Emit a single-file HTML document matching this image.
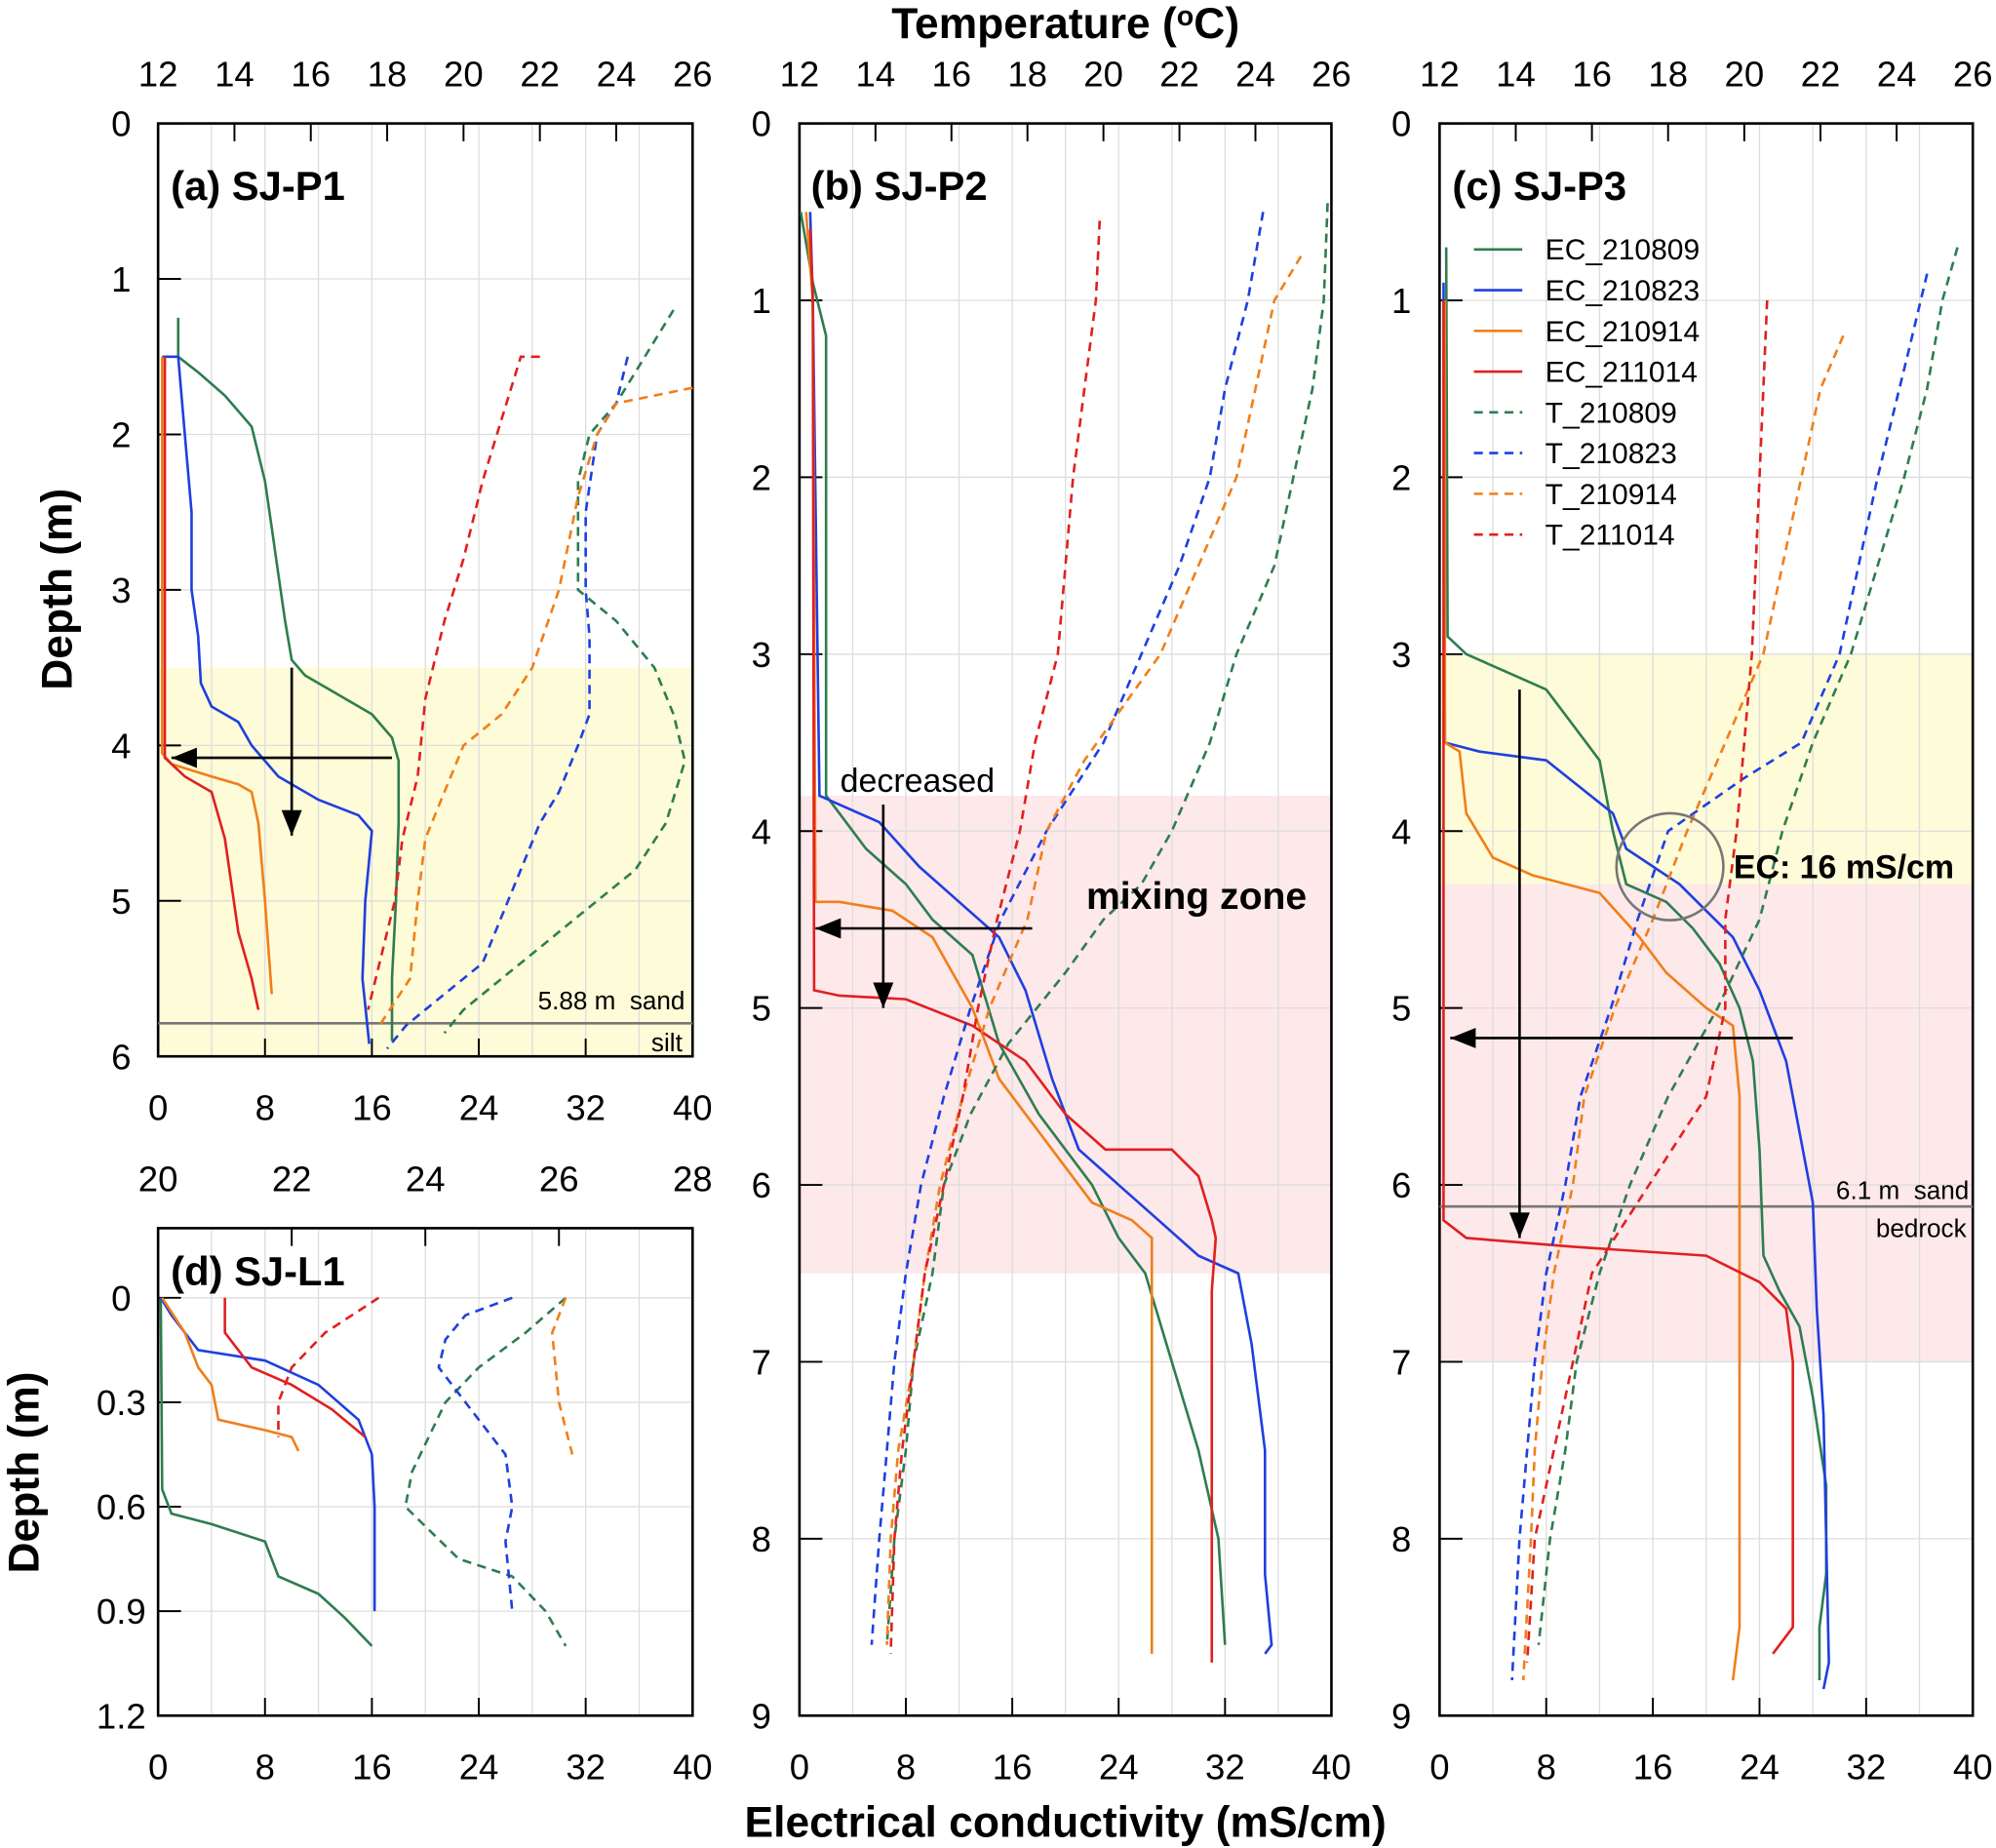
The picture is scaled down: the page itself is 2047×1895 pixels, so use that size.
<!DOCTYPE html>
<html><head><meta charset="utf-8"><style>
html,body{margin:0;padding:0;background:#fff}
svg{display:block}
text{font-family:"Liberation Sans",Arial,sans-serif}
</style></head><body>
<svg id="s" width="2047" height="1895" viewBox="0 0 1568 1452" xmlns="http://www.w3.org/2000/svg"></svg>
<script>
const S=document.getElementById('s');let h='';
const G='#2e7d4f',B='#1f3fe0',O='#f07f1a',R='#e02020';
function P(x0,x1,y0,y1,d0,d1,t0,t1){return{ex:v=>x0+(v/40)*(x1-x0),tx:v=>x0+(v-t0)/(t1-t0)*(x1-x0),y:d=>y0+(d-d0)/(d1-d0)*(y1-y0),x0,x1,y0,y1}}
function line(p,pts,c,dash,temp){const s=pts.map(q=>(temp?p.tx(q[0]):p.ex(q[0])).toFixed(1)+','+p.y(q[1]).toFixed(1)).join(' ');
h+=`<polyline points="${s}" fill="none" stroke="${c}" stroke-width="2" ${dash?'stroke-dasharray="7,5"':''}/>`}
function txt(x,y,t,sz,anc,bold,extra){h+=`<text x="${x}" y="${y}" font-size="${sz}" text-anchor="${anc||'middle'}" ${bold?'font-weight="bold"':''} ${extra||''}>${t}</text>`}
function arrow(x1,y1,x2,y2){h+=`<line x1="${x1}" y1="${y1}" x2="${x2}" y2="${y2}" stroke="#000" stroke-width="2"/>`;
const a=Math.atan2(y2-y1,x2-x1),L=20,W=8;const p1=[x2-L*Math.cos(a)+W*Math.sin(a),y2-L*Math.sin(a)-W*Math.cos(a)],p2=[x2-L*Math.cos(a)-W*Math.sin(a),y2-L*Math.sin(a)+W*Math.cos(a)];
h+=`<polygon points="${x2},${y2} ${p1} ${p2}" fill="#000"/>`}
function frame(p,dTicks,tTicks,tLabY,eLabY,lblX,dFmt,bands){
 bands.forEach(b=>{h+=`<rect x="${p.x0}" y="${p.y(b[0])}" width="${p.x1-p.x0}" height="${p.y(b[1])-p.y(b[0])}" fill="${b[2]}"/>`});
 for(let v=0;v<=40;v+=4){const x=p.ex(v);h+=`<line x1="${x}" y1="${p.y0}" x2="${x}" y2="${p.y1}" stroke="#ddd" stroke-width="1"/>`}
 dTicks.forEach(d=>{const y=p.y(d);h+=`<line x1="${p.x0}" y1="${y}" x2="${p.x1}" y2="${y}" stroke="#ddd" stroke-width="1"/>`});
 h+=`<rect x="${p.x0}" y="${p.y0}" width="${p.x1-p.x0}" height="${p.y1-p.y0}" fill="none" stroke="#000" stroke-width="2"/>`;
 dTicks.forEach(d=>{const y=p.y(d);h+=`<line x1="${p.x0}" y1="${y}" x2="${p.x0+18}" y2="${y}" stroke="#000" stroke-width="1.5"/>`;txt(lblX,y+10,dFmt(d),28,'middle')});
 for(let v=0;v<=40;v+=8){const x=p.ex(v);h+=`<line x1="${x}" y1="${p.y1}" x2="${x}" y2="${p.y1-14}" stroke="#000" stroke-width="1.5"/>`;txt(x,eLabY,v,28)}
 tTicks.forEach(t=>{const x=p.tx(t);h+=`<line x1="${x}" y1="${p.y0}" x2="${x}" y2="${p.y0+14}" stroke="#000" stroke-width="1.5"/>`;txt(x,tLabY,t,28)});
}
const Y='#fdfbd8',K='#fde8ea';
// Panel a
let a=P(124,544,97,830,0,6,12,26);
frame(a,[0,1,2,3,4,5,6],[12,14,16,18,20,22,24,26],68,880,95,d=>d,[[3.5,6,Y]]);
h+=`<line x1="124" y1="804" x2="544" y2="804" stroke="#777" stroke-width="2"/>`;
txt(538,793,'5.88 m&#160;&#160;sand',20,'end');txt(536,826,'silt',20,'end');
line(a,[[1.5,1.25],[1.5,1.5],[3,1.6],[5,1.75],[7,1.95],[8,2.3],[8.5,2.6],[9,2.9],[9.5,3.2],[10,3.45],[11,3.55],[13,3.65],[16,3.8],[17.5,3.95],[18,4.1],[18,4.5],[17.8,5],[17.5,5.5],[17.5,5.9]],G);
line(a,[[0.3,1.5],[1.5,1.5],[2,2],[2.5,2.5],[2.5,3],[3,3.3],[3.2,3.6],[4,3.75],[6,3.85],[7,4],[9,4.2],[12,4.35],[15,4.45],[16,4.55],[15.5,5],[15.3,5.5],[15.8,5.92]],B);
line(a,[[0.3,1.5],[0.3,4.05],[1,4.12],[4,4.2],[6,4.25],[7,4.3],[7.5,4.5],[8,5],[8.5,5.6]],O);
line(a,[[0.5,1.5],[0.5,4.08],[2,4.2],[4,4.3],[5,4.6],[6,5.2],[7,5.5],[7.5,5.7]],R);
line(a,[[25.5,1.2],[25,1.4],[24.5,1.6],[24,1.8],[23.3,2],[23,2.3],[23,2.6],[23,3],[24,3.2],[25,3.5],[25.5,3.8],[25.8,4.1],[25.3,4.5],[24.5,4.8],[23,5.1],[22,5.3],[21,5.5],[20,5.7],[19.5,5.85]],G,1,1);
line(a,[[24.3,1.5],[24,1.8],[23.5,2],[23.2,2.5],[23.2,3],[23.3,3.3],[23.3,3.8],[23,4],[22.5,4.3],[22,4.5],[21.5,4.8],[21,5.1],[20.5,5.4],[19.5,5.6],[18.5,5.8],[18,5.95]],B,1,1);
line(a,[[26,1.7],[24,1.8],[23.5,2],[23,2.4],[22.5,3],[21.8,3.5],[21,3.8],[20,4],[19.5,4.3],[19,4.6],[18.8,5],[18.6,5.5],[17.8,5.8]],O,1,1);
line(a,[[22,1.5],[21.5,1.5],[21,1.9],[20.5,2.3],[20,2.8],[19.5,3.2],[19,3.7],[18.8,4.2],[18.4,4.6],[18.2,5],[17.9,5.3],[17.5,5.7]],R,1,1);
arrow(a.ex(17.5),a.y(4.08),a.ex(1),a.y(4.08));arrow(a.ex(10),a.y(3.5),a.ex(10),a.y(4.58));
txt(134,157,'(a) SJ-P1',32,'start',1);
// Panel b
let b=P(628,1046,97,1348,0,9,12,26);
frame(b,[0,1,2,3,4,5,6,7,8,9],[12,14,16,18,20,22,24,26],68,1398,598,d=>d,[[3.8,6.5,K]]);
line(b,[[0.1,0.5],[1,0.9],[2,1.2],[2,3.8],[3,3.9],[5,4.1],[8,4.3],[10,4.5],[13,4.7],[15,5.2],[18,5.6],[22,6],[24,6.3],[26,6.5],[28,7],[30,7.5],[31.5,8],[32,8.6]],G);
line(b,[[0.8,0.5],[1,1],[1.5,3.8],[3,3.85],[6,3.95],[9,4.2],[12,4.4],[15,4.6],[17,4.9],[19,5.4],[21,5.8],[24,6],[27,6.2],[30,6.4],[33,6.5],[34,6.9],[35,7.5],[35,8.2],[35.5,8.6],[35,8.65]],B);
line(b,[[0.5,0.5],[1,1],[1.2,4.4],[3,4.4],[7,4.45],[10,4.6],[13,5],[15,5.4],[18,5.7],[20,5.9],[22,6.1],[25,6.2],[26.5,6.3],[26.5,8.65]],O);
line(b,[[0.8,0.6],[1,1],[1.1,4.9],[3,4.93],[8,4.95],[13,5.1],[17,5.3],[20,5.6],[23,5.8],[28,5.8],[30,5.95],[31,6.2],[31.3,6.3],[31,6.6],[31,8.7]],R);
line(b,[[25.9,0.45],[25.8,1],[25.5,1.5],[25,2],[24.5,2.5],[23.5,3],[22.8,3.5],[21.8,4],[21,4.3],[20,4.5],[19,4.8],[17.5,5.2],[16.5,5.6],[15.8,6],[15.5,6.5],[15,7],[14.8,7.5],[14.5,8],[14.3,8.6]],G,1,1);
line(b,[[24.2,0.5],[23.8,1],[23.2,1.5],[22.8,2],[22,2.5],[21,3],[20,3.5],[18.5,4],[17.3,4.5],[16.5,5],[15.8,5.5],[15.2,6],[14.8,6.5],[14.5,7],[14.3,7.5],[14.1,8],[13.9,8.6]],B,1,1);
line(b,[[25.2,0.75],[24.5,1],[24,1.5],[23.5,2],[22.5,2.5],[21.5,3],[20.5,3.3],[19.5,3.6],[18.5,4],[18,4.5],[17,5],[16.3,5.5],[15.7,6],[15.3,6.5],[15,7],[14.6,7.5],[14.4,8],[14.3,8.6]],O,1,1);
line(b,[[19.9,0.55],[19.8,1],[19.5,1.5],[19.2,2],[19,2.5],[18.8,3],[18.2,3.5],[17.8,4],[17.2,4.5],[16.7,5],[16.3,5.5],[15.8,6],[15.3,6.5],[15,7],[14.7,7.5],[14.5,8],[14.4,8.65]],R,1,1);
arrow(b.ex(17.5),b.y(4.55),b.ex(1.2),b.y(4.55));arrow(b.ex(6.3),b.y(3.85),b.ex(6.3),b.y(5.0));
txt(660,622,'decreased',26,'start');txt(940,714,'mixing zone',30,'middle',1);
txt(637,157,'(b) SJ-P2',32,'start',1);
// Panel c
let c=P(1131,1550,97,1348,0,9,12,26);
frame(c,[0,1,2,3,4,5,6,7,8,9],[12,14,16,18,20,22,24,26],68,1398,1101,d=>d,[[3,4.3,Y],[4.3,7,K]]);
h+=`<line x1="1131" y1="948" x2="1550" y2="948" stroke="#777" stroke-width="2"/>`;
txt(1547,942,'6.1 m&#160;&#160;sand',20,'end');txt(1545,972,'bedrock',20,'end');
line(c,[[0.5,0.7],[0.6,2.9],[2,3],[5,3.1],[8,3.2],[10,3.4],[12,3.6],[13,4],[14,4.3],[17,4.4],[19,4.55],[21,4.75],[22.5,5],[23.5,5.3],[24,5.8],[24.3,6.4],[25.5,6.6],[27,6.8],[28,7.2],[29,7.7],[29,8.2],[28.5,8.5],[28.5,8.8]],G);
line(c,[[0.3,0.9],[0.4,3.5],[3,3.55],[8,3.6],[13,3.9],[14,4.1],[16,4.2],[18,4.3],[20,4.45],[22,4.6],[24,4.9],[26,5.3],[27,5.7],[28,6.1],[28.3,6.7],[28.8,7.3],[29,8],[29.2,8.7],[28.8,8.85]],B);
line(c,[[0.4,1],[0.4,3.5],[1.5,3.55],[2,3.9],[4,4.15],[7,4.25],[12,4.35],[15,4.6],[17,4.8],[20,5],[22,5.1],[22.5,5.5],[22.5,8.5],[22,8.8]],O);
line(c,[[0.3,1],[0.3,6.2],[2,6.3],[10,6.35],[20,6.4],[24,6.55],[26,6.7],[26.5,7],[26.5,8.5],[25,8.65]],R);
line(c,[[25.6,0.7],[25.2,1],[24.8,1.5],[24.2,2],[23.5,2.5],[22.8,3],[21.8,3.5],[21,4],[20.4,4.5],[19.3,5],[18,5.5],[17,6],[16.2,6.5],[15.6,7],[15.3,7.5],[14.9,8],[14.6,8.6]],G,1,1);
line(c,[[24.8,0.85],[24.3,1.3],[23.5,2],[23,2.5],[22.5,3],[21.5,3.5],[20,3.7],[18,4],[17.2,4.5],[16.5,5],[15.7,5.5],[15.3,6],[14.8,6.5],[14.5,7],[14.3,7.5],[14.1,8],[13.9,8.8]],B,1,1);
line(c,[[22.6,1.2],[22,1.5],[21.5,2],[21,2.5],[20.5,3],[19.5,3.5],[18.5,4],[17.6,4.5],[16.6,5],[15.8,5.5],[15.5,6],[15,6.5],[14.7,7],[14.5,7.5],[14.4,8],[14.2,8.8]],O,1,1);
line(c,[[20.6,1],[20.4,2],[20.2,3],[19.8,4],[19.5,4.5],[19.5,5],[19,5.5],[17.5,6],[16,6.5],[15.5,7],[15,7.5],[14.5,8],[14.3,8.7]],R,1,1);
h+=`<circle cx="1312" cy="681" r="42" fill="none" stroke="#777" stroke-width="2"/>`;
txt(1362,690,'EC: 16 mS/cm',26,'start',1);
arrow(c.ex(26.5),c.y(5.17),c.ex(0.8),c.y(5.17));arrow(c.ex(6),c.y(3.2),c.ex(6),c.y(6.3));
txt(1141,157,'(c) SJ-P3',32,'start',1);
const leg=[['EC_210809',G,0],['EC_210823',B,0],['EC_210914',O,0],['EC_211014',R,0],['T_210809',G,1],['T_210823',B,1],['T_210914',O,1],['T_211014',R,1]];
leg.forEach((l,i)=>{const y=196+i*32;h+=`<line x1="1158" y1="${y}" x2="1196" y2="${y}" stroke="${l[1]}" stroke-width="2" ${l[2]?'stroke-dasharray="7,5"':''}/>`;txt(1214,y+8,l[0],23,'start')});
// Panel d
let d=P(124,544,965,1348,-0.2,1.2,20,28);
frame(d,[0,0.3,0.6,0.9,1.2],[20,22,24,26,28],936,1398,95,v=>v,[]);
line(d,[[0.2,0],[0.3,0.55],[1,0.62],[4,0.65],[8,0.7],[9,0.8],[12,0.85],[14,0.92],[16,1]],G);
line(d,[[0.2,0],[1,0.05],[3,0.15],[8,0.18],[12,0.25],[15,0.35],[16,0.45],[16.2,0.6],[16.2,0.9]],B);
line(d,[[0.3,0],[2,0.1],[3,0.2],[4,0.25],[4.5,0.35],[8,0.38],[10,0.4],[10.5,0.44]],O);
line(d,[[5,0],[5,0.1],[7,0.2],[10,0.25],[13,0.32],[15.5,0.4]],R);
line(d,[[26.1,0],[25.5,0.1],[24.8,0.2],[24.3,0.3],[23.8,0.5],[23.7,0.6],[24.5,0.75],[25.3,0.8],[25.8,0.9],[26.1,1]],G,1,1);
line(d,[[25.3,0],[24.6,0.05],[24.3,0.12],[24.2,0.2],[24.6,0.3],[25.2,0.45],[25.3,0.6],[25.2,0.7],[25.3,0.9]],B,1,1);
line(d,[[26.1,0],[25.9,0.1],[26,0.3],[26.2,0.45]],O,1,1);
line(d,[[23.3,0],[22.5,0.1],[22,0.2],[21.8,0.3],[21.8,0.4]],R,1,1);
txt(134,1010,'(d) SJ-L1',32,'start',1);
// axis titles
txt(837,30,'Temperature (<tspan font-size="22" dy="-10">o</tspan><tspan dy="10">C)</tspan>',34,'middle',1);
txt(837,1443,'Electrical conductivity (mS/cm)',34,'middle',1);
txt(56,463,'Depth (m)',34,'middle',1,'transform="rotate(-90 56 463)"');
txt(30,1157,'Depth (m)',34,'middle',1,'transform="rotate(-90 30 1157)"');
S.innerHTML=h;
</script>
</body></html>
